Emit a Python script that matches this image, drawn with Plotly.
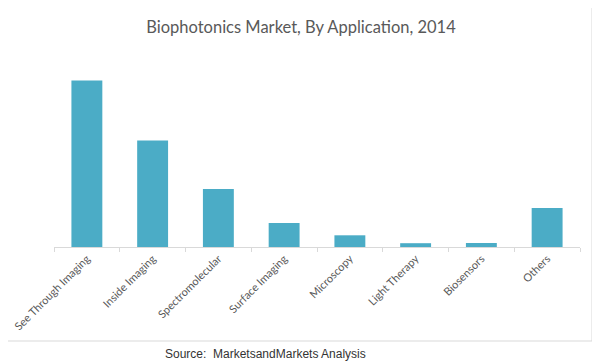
import plotly.graph_objects as go

categories = ["See Through Imaging", "Inside Imaging", "Spectromolecular", "Surface Imaging",
              "Microscopy", "Light Therapy", "Biosensors", "Others"]
values = [166.5, 106.5, 58.0, 24.0, 11.7, 3.8, 4.0, 39.0]

title_text = "Biophotonics Market, By Application, 2014"
source_text = "Source:  MarketsandMarkets Analysis"

# page body margin offsets the figure by 8px; compensate
OFF = 8
W, H = 600 - OFF, 364 - OFF
L, R, T, B = 54 - OFF, 20, 60 - OFF, 117
plot_h = H - T - B
plot_w = W - L - R

def px_to_paper_x(px):
    return (px - OFF - L) / plot_w

def px_to_paper_y(py):
    return (H - B - (py - OFF)) / plot_h

fig = go.Figure()
fig.add_trace(go.Bar(x=categories, y=values, marker=dict(color="#4BACC6", line=dict(width=0)),
                     hoverinfo="x+y"))

fig.update_layout(
    width=W, height=H,
    margin=dict(l=L, r=R, t=T, b=B, pad=0, autoexpand=False),
    paper_bgcolor="white", plot_bgcolor="white",
    bargap=0.53,
    showlegend=False,
    title=dict(text=title_text, x=px_to_paper_x(301), xref="paper", xanchor="center",
               y=1 - (27 - OFF) / H, yanchor="middle",
               font=dict(family="Lato, Open Sans, sans-serif", size=16.5, color="#595959")),
    xaxis=dict(showline=True, linecolor="#d9d9d9", linewidth=1, ticks="outside",
               tickson="boundaries", ticklen=4, tickcolor="#d9d9d9", tickangle=-45,
               automargin=False,
               tickfont=dict(family="Lato, Open Sans, sans-serif", size=11, color="#595959"),
               showgrid=False, zeroline=False),
    yaxis=dict(range=[0, plot_h], visible=False, showgrid=False, zeroline=False, automargin=False),
    shapes=[dict(type="rect", xref="paper", yref="paper",
                 x0=px_to_paper_x(7), x1=px_to_paper_x(592),
                 y0=px_to_paper_y(341), y1=px_to_paper_y(7),
                 line=dict(color="#d9d9d9", width=1), fillcolor="rgba(0,0,0,0)", layer="below")],
    annotations=[dict(text=source_text, xref="paper", yref="paper",
                      x=px_to_paper_x(265), y=px_to_paper_y(354), xanchor="center", yanchor="middle",
                      showarrow=False,
                      font=dict(family="Arial, Liberation Sans, sans-serif", size=12, color="#333333"))],
)

fig.write_html("out.html")
